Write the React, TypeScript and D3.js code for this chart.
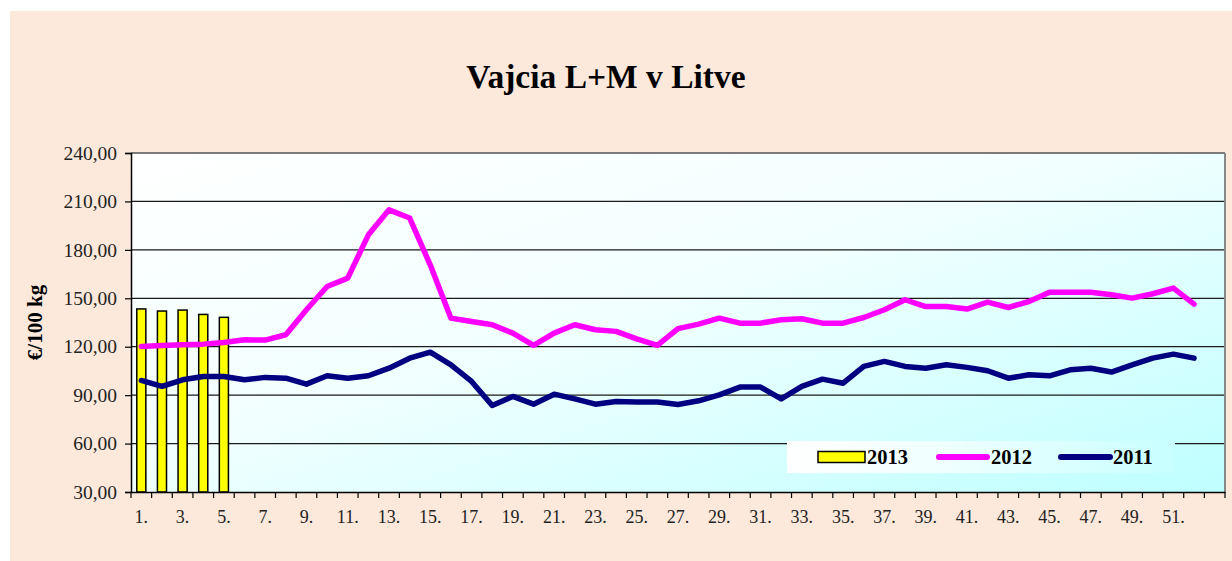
import { useEffect, useRef } from 'react'
import * as d3 from 'd3'

const WEEKS = [
  1, 2, 3, 4, 5, 6, 7, 8, 9, 10, 11, 12, 13, 14, 15, 16, 17, 18, 19, 20, 21, 22, 23, 24, 25, 26, 27,
  28, 29, 30, 31, 32, 33, 34, 35, 36, 37, 38, 39, 40, 41, 42, 43, 44, 45, 46, 47, 48, 49, 50, 51, 52, 53,
]
const X_LABELS = [1, 3, 5, 7, 9, 11, 13, 15, 17, 19, 21, 23, 25, 27, 29, 31, 33, 35, 37, 39, 41, 43, 45, 47, 49, 51]
const Y_TICKS = [30, 60, 90, 120, 150, 180, 210, 240]

const S2013 = [143.4, 142.1, 142.7, 140.0, 138.2]
const S2012 = [
  120.2, 120.8, 121.2, 121.6, 122.6, 124.3, 124.1, 127.4, 142.9, 157.3,
  162.5, 189.3, 204.8, 199.7, 170.6, 137.7, 135.6, 133.6, 128.4, 120.8,
  128.4, 133.6, 130.5, 129.5, 124.9, 120.8, 131.2, 134.0, 137.7, 134.6,
  134.6, 136.7, 137.3, 134.6, 134.6, 138.1, 142.9, 149.1, 144.9, 144.9,
  143.3, 147.6, 144.3, 148.0, 153.8, 153.8, 153.8, 152.2, 150.1, 152.8, 156.3, 146.4,
]
const S2011 = [
  99.1, 95.4, 99.5, 101.6, 101.6, 99.5, 101.0, 100.5, 96.8, 102.0,
  100.5, 102.0, 106.7, 112.9, 116.6, 108.8, 98.5, 83.6, 89.2, 84.4,
  90.6, 87.7, 84.4, 86.1, 85.7, 85.7, 84.2, 86.5, 90.2, 95.0,
  95.0, 87.7, 95.4, 99.9, 97.4, 107.8, 110.9, 107.8, 106.7, 108.8,
  107.2, 105.1, 100.5, 102.6, 102.0, 105.7, 106.7, 104.3, 108.8, 112.9, 115.4, 112.9,
]

const W = 1232
const H = 561
const FONT = '"Liberation Serif", "Times New Roman", serif'
const PINK = '#FF00FF'
const NAVY = '#000080'

export default function App() {
  const ref = useRef<SVGSVGElement>(null)

  useEffect(() => {
    if (!ref.current) return
    const svg = d3.select(ref.current)
    svg.selectAll('*').remove()

    const margin = { top: 153, right: 7, bottom: 69, left: 131 }
    const x = d3.scaleBand<number>().domain(WEEKS).range([margin.left, W - margin.right])
    const y = d3.scaleLinear().domain([30, 240]).range([H - margin.bottom, margin.top])
    const bw = x.bandwidth()
    const cx = (w: number) => (x(w) ?? 0) + bw / 2

    const defs = svg.append('defs')
    const pg = defs.append('linearGradient').attr('id', 'plotbg')
      .attr('x1', 0).attr('y1', 0).attr('x2', 1).attr('y2', 1)
    pg.append('stop').attr('offset', 0).attr('stop-color', '#FFFFFF')
    pg.append('stop').attr('offset', 0.45).attr('stop-color', '#F2FFFF')
    pg.append('stop').attr('offset', 1).attr('stop-color', '#BEFFFF')
    const lg = defs.append('linearGradient').attr('id', 'legbg')
      .attr('x1', 0).attr('y1', 0).attr('x2', 1).attr('y2', 0)
    lg.append('stop').attr('offset', 0).attr('stop-color', '#FFFFFF')
    lg.append('stop').attr('offset', 0.4).attr('stop-color', '#F0FFFF')
    lg.append('stop').attr('offset', 1).attr('stop-color', '#C8FFFF')

    // chart background
    svg.append('rect').attr('x', 10).attr('y', 11).attr('width', W - 10).attr('height', H - 11)
      .attr('fill', '#FCE9DB')

    const [x0, x1] = x.range()
    const [yb, yt] = y.range()
    svg.append('rect').attr('x', x0).attr('y', yt).attr('width', x1 - x0).attr('height', yb - yt)
      .attr('fill', 'url(#plotbg)')

    // gridlines
    svg.append('g').selectAll('line').data(Y_TICKS.slice(1)).join('line')
      .attr('x1', x0).attr('x2', x1)
      .attr('y1', (d) => y(d)).attr('y2', (d) => y(d))
      .attr('stroke', '#1a1a1a').attr('stroke-width', 1.2)

    // legend box
    const leg = svg.append('g')
    leg.append('rect').attr('x', 787).attr('y', 441).attr('width', 388).attr('height', 32)
      .attr('fill', 'url(#legbg)')

    // bars 2013
    const barW = bw * 0.44
    svg.append('g').selectAll('rect').data(S2013).join('rect')
      .attr('x', (_, i) => cx(WEEKS[i]) - barW / 2)
      .attr('y', (d) => y(d))
      .attr('width', barW)
      .attr('height', (d) => yb - y(d))
      .attr('fill', '#FFFF00').attr('stroke', '#000').attr('stroke-width', 1.5)

    const line = d3.line<number>().x((_, i) => cx(WEEKS[i])).y((d) => y(d))
    svg.append('path').datum(S2012).attr('d', line).attr('fill', 'none')
      .attr('stroke', PINK).attr('stroke-width', 5.5).attr('stroke-linejoin', 'round').attr('stroke-linecap', 'round')
    svg.append('path').datum(S2011).attr('d', line).attr('fill', 'none')
      .attr('stroke', NAVY).attr('stroke-width', 5.5).attr('stroke-linejoin', 'round').attr('stroke-linecap', 'round')

    // frame
    svg.append('line').attr('x1', x0).attr('x2', x1).attr('y1', yt).attr('y2', yt)
      .attr('stroke', '#777').attr('stroke-width', 1.5)
    svg.append('line').attr('x1', x1).attr('x2', x1).attr('y1', yt).attr('y2', yb)
      .attr('stroke', '#888').attr('stroke-width', 2)

    // y axis
    const ya = svg.append('g').attr('transform', `translate(${x0},0)`)
      .call(d3.axisLeft(y).tickValues(Y_TICKS).tickSize(6).tickPadding(8)
        .tickFormat((d) => (d as number).toFixed(2).replace('.', ',')))
    ya.select('.domain').attr('stroke', '#000').attr('stroke-width', 1.5)
    ya.selectAll('.tick line').attr('stroke', '#000').attr('stroke-width', 1.2)
    ya.selectAll('text').attr('font-family', FONT).attr('font-size', '19.5px').attr('fill', '#222')

    // x axis
    const xa = svg.append('g').attr('transform', `translate(0,${yb})`)
      .call(d3.axisBottom(x).tickSize(0).tickFormat(() => ''))
    xa.select('.domain').attr('stroke', '#000').attr('stroke-width', 1.5)
    xa.selectAll('.tick').remove()
    xa.selectAll('line.sep').data([...WEEKS, 54]).join('line').attr('class', 'sep')
      .attr('x1', (d) => (d === 54 ? x1 : x(d) ?? 0)).attr('x2', (d) => (d === 54 ? x1 : x(d) ?? 0))
      .attr('y1', 0).attr('y2', 6).attr('stroke', '#000').attr('stroke-width', 1.2)
    svg.append('g').selectAll('text').data(X_LABELS).join('text')
      .attr('x', (d) => cx(d)).attr('y', 523).attr('text-anchor', 'middle')
      .attr('font-family', FONT).attr('font-size', '18px').attr('fill', '#222')
      .text((d) => `${d}.`)

    // y title
    svg.append('text').attr('transform', `translate(42,${(yt + yb) / 2}) rotate(-90)`)
      .attr('text-anchor', 'middle').attr('font-family', FONT).attr('font-weight', 'bold')
      .attr('font-size', '21px').attr('fill', '#000').text('€/100 kg')

    // title
    svg.append('text').attr('x', 606).attr('y', 88).attr('text-anchor', 'middle')
      .attr('font-family', FONT).attr('font-weight', 'bold').attr('font-size', '33.5px')
      .attr('fill', '#000').text('Vajcia L+M v Litve')

    // legend items
    const ly = 457
    leg.append('rect').attr('x', 818).attr('y', ly - 5.5).attr('width', 47).attr('height', 11)
      .attr('fill', '#FFFF00').attr('stroke', '#000').attr('stroke-width', 1.5)
    leg.append('line').attr('x1', 939).attr('x2', 987).attr('y1', ly).attr('y2', ly)
      .attr('stroke', PINK).attr('stroke-width', 6).attr('stroke-linecap', 'round')
    leg.append('line').attr('x1', 1061).attr('x2', 1110).attr('y1', ly).attr('y2', ly)
      .attr('stroke', NAVY).attr('stroke-width', 6).attr('stroke-linecap', 'round')
    const items: [string, number][] = [['2013', 867], ['2012', 991], ['2011', 1113]]
    leg.selectAll('text').data(items).join('text')
      .attr('x', (d) => d[1]).attr('y', ly + 7)
      .attr('font-family', FONT).attr('font-weight', 'bold').attr('font-size', '20.5px')
      .attr('fill', '#000').text((d) => d[0])

    return () => { svg.selectAll('*').remove() }
  }, [])

  return (
    <svg ref={ref} width={W} height={H}
      style={{ position: 'absolute', left: 0, top: 0, display: 'block', background: '#fff' }} />
  )
}
